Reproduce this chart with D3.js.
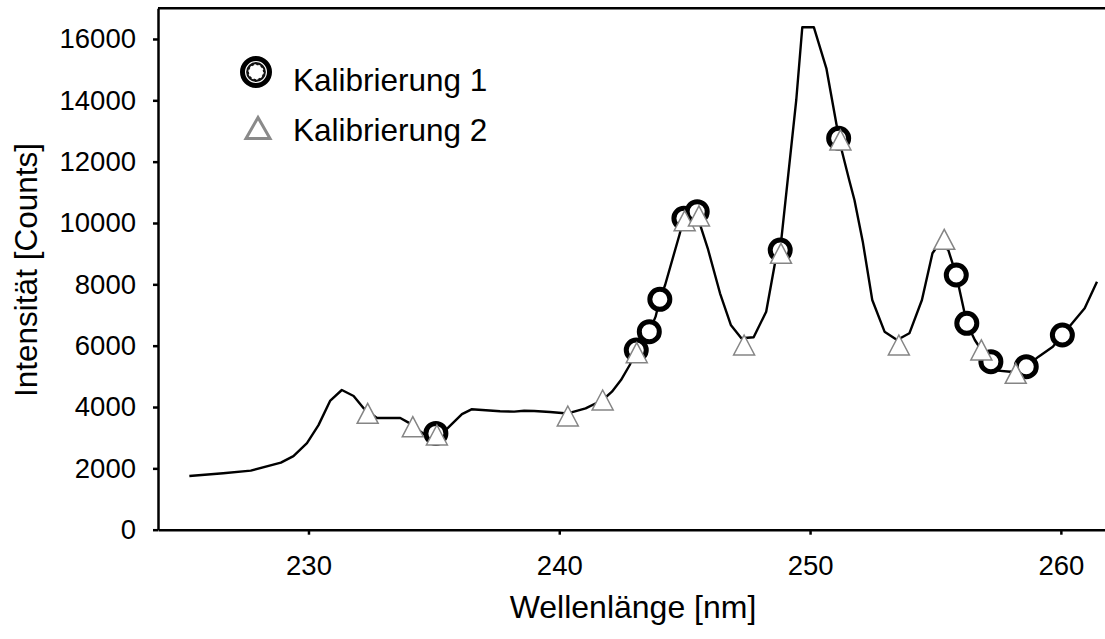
<!DOCTYPE html>
<html>
<head>
<meta charset="utf-8">
<script src="https://cdn.jsdelivr.net/npm/d3@7"></script>
<style>
  body { margin: 0; background: #fff; }
  svg { display: block; }
  text { font-family: "Liberation Sans", Arial, Helvetica, sans-serif; fill: #000; }
</style>
</head>
<body>
<svg id="chart" width="1105" height="639"></svg>
<script>
// Emission spectrum (wavelength in nm, intensity in counts)
const spectrumWavelength = [
  225.25, 226.6, 227.7, 228.9, 229.4, 229.94, 230.4, 230.87, 231.33, 231.8,
  232.2, 232.73, 233.66, 233.99, 234.6, 235.1, 235.55, 236.12, 236.5, 237.64,
  238.2, 238.6, 239.0, 239.63, 240.34, 241.05, 241.73, 242.1, 242.46, 242.81,
  243.07, 243.59, 243.84, 244.01, 244.22, 244.79, 244.97, 245.5, 245.64, 245.92,
  246.41, 246.84, 247.26, 247.75, 248.25, 248.6, 248.81, 249.45, 249.69, 250.15,
  250.65, 251.07, 251.14, 251.56, 251.77, 252.1, 252.48, 252.97, 253.47, 253.96,
  254.46, 254.88, 255.16, 255.51, 255.83, 256.25, 256.57, 256.83, 257.21, 257.49,
  257.99, 258.62, 259.11, 259.68, 260.06, 260.95, 261.44
];
const spectrumIntensity = [
  1750, 1840, 1925, 2185, 2400, 2820, 3410, 4210, 4555, 4360,
  3960, 3640, 3640, 3490, 3120, 3090, 3310, 3770, 3925, 3860,
  3850, 3880, 3870, 3836, 3790, 3958, 4229, 4500, 4880, 5370,
  5860, 6457, 6946, 7512, 7979, 9609, 10153, 10370, 9880, 9175,
  7708, 6675, 6240, 6273, 7108, 8686, 9120, 14011, 16383, 16383,
  15043, 13140, 12762, 11402, 10750, 9400, 7488, 6457, 6186, 6403,
  7488, 9012, 9338, 9120, 8305, 6730, 6186, 5860, 5478, 5185,
  5152, 5315, 5641, 5967, 6348, 7219, 8086
];

// Calibration lines, set 1
const cal1Wavelength = [235.08, 243.07, 243.59, 244.01, 244.97, 245.5, 248.81, 251.14, 255.83, 256.25, 257.21, 258.62, 260.06];
const cal1Intensity  = [3140, 5860, 6457, 7512, 10153, 10370, 9120, 12762, 8305, 6730, 5478, 5315, 6348];

// Calibration lines, set 2
const cal2Wavelength = [232.36, 234.16, 235.12, 240.34, 241.73, 243.09, 245.0, 245.57, 247.37, 248.84, 251.21, 253.54, 255.35, 256.83, 258.2];
const cal2Intensity  = [3795, 3358, 3088, 3707, 4229, 5771, 10075, 10229, 6022, 9012, 12707, 6022, 9469, 5860, 5100];

const xTickValues = [230, 240, 250, 260];
const yTickValues = [0, 2000, 4000, 6000, 8000, 10000, 12000, 14000, 16000];
const seriesNames = ["Kalibrierung 1", "Kalibrierung 2"];
const xTitle = "Wellenlänge [nm]";
const yTitle = "Intensität [Counts]";

const svg = d3.select("#chart");

const x = d3.scaleLinear().domain([224, 261.76]).range([158, 1105]);
const y = d3.scaleLinear().domain([0, 17000]).range([529.7, 8.3]);

const axisStroke = 2.5;

// Triangle centred on its bounding box
function trianglePath(w, h) {
  const p = d3.path();
  p.moveTo(0, -h / 2);
  p.lineTo(w / 2, h / 2);
  p.lineTo(-w / 2, h / 2);
  p.closePath();
  return p.toString();
}

// Spectrum line
const spectrum = d3.zip(spectrumWavelength, spectrumIntensity);
svg.append("path")
  .datum(spectrum)
  .attr("fill", "none")
  .attr("stroke", "#000")
  .attr("stroke-width", 2.4)
  .attr("stroke-linejoin", "round")
  .attr("d", d3.line().x(d => x(d[0])).y(d => y(d[1])));

// Set 1: thick black rings
svg.append("g").selectAll("circle")
  .data(d3.zip(cal1Wavelength, cal1Intensity))
  .join("circle")
  .attr("cx", d => x(d[0]))
  .attr("cy", d => y(d[1]))
  .attr("r", 10)
  .attr("fill", "#fff")
  .attr("stroke", "#000")
  .attr("stroke-width", 5);

// Set 2: grey open triangles
svg.append("g").selectAll("path")
  .data(d3.zip(cal2Wavelength, cal2Intensity))
  .join("path")
  .attr("transform", d => `translate(${x(d[0])},${y(d[1])})`)
  .attr("d", trianglePath(21, 20))
  .attr("fill", "#fff")
  .attr("stroke", "#858585")
  .attr("stroke-width", 1.5);

// Axes
const xAxis = svg.append("g")
  .attr("transform", `translate(0,${y(0)})`)
  .call(d3.axisBottom(x).tickValues(xTickValues).tickSize(5).tickSizeOuter(0).tickPadding(20.6).tickFormat(d3.format("d")));
const yAxis = svg.append("g")
  .attr("transform", `translate(${x.range()[0]},0)`)
  .call(d3.axisLeft(y).tickValues(yTickValues).tickSize(5).tickSizeOuter(0).tickPadding(17).tickFormat(d3.format("d")));

[xAxis, yAxis].forEach(g => {
  g.selectAll(".domain").attr("stroke", "#000").attr("stroke-width", axisStroke);
  g.selectAll(".tick line").attr("stroke", "#000").attr("stroke-width", axisStroke);
  g.selectAll(".tick text")
    .attr("font-size", 27.5)
    .attr("font-family", "\"Liberation Sans\", Arial, sans-serif")
    .attr("fill", "#000");
});

// Top frame line
svg.append("line")
  .attr("x1", x.range()[0]).attr("x2", x.range()[1])
  .attr("y1", y.range()[1]).attr("y2", y.range()[1])
  .attr("stroke", "#000").attr("stroke-width", axisStroke);

// Axis titles
svg.append("text")
  .attr("x", 633).attr("y", 618)
  .attr("text-anchor", "middle")
  .attr("font-size", 32)
  .text(xTitle);

svg.append("text")
  .attr("transform", "translate(37,270) rotate(-90)")
  .attr("text-anchor", "middle")
  .attr("font-size", 31.5)
  .text(yTitle);

// Legend
const legend = svg.append("g");
const l1 = legend.append("g").attr("transform", "translate(256,72)");
l1.append("circle").attr("r", 13.5).attr("fill", "#fff").attr("stroke", "#000").attr("stroke-width", 5);
l1.append("circle").attr("r", 8.5).attr("fill", "#fff").attr("stroke", "#111").attr("stroke-width", 2.8);
l1.append("circle").attr("r", 7).attr("fill", "none").attr("stroke", "#fff")
  .attr("stroke-width", 1.4).attr("stroke-dasharray", "2.2,2.2");

legend.append("path")
  .attr("transform", "translate(258,128)")
  .attr("d", trianglePath(24, 21))
  .attr("fill", "#fff")
  .attr("stroke", "#8a8a8a")
  .attr("stroke-width", 3);

legend.selectAll("text.lg")
  .data(seriesNames)
  .join("text")
  .attr("class", "lg")
  .attr("x", 293)
  .attr("y", (d, i) => 91 + i * 49.5)
  .attr("font-size", 31.5)
  .text(d => d);
</script>
</body>
</html>
